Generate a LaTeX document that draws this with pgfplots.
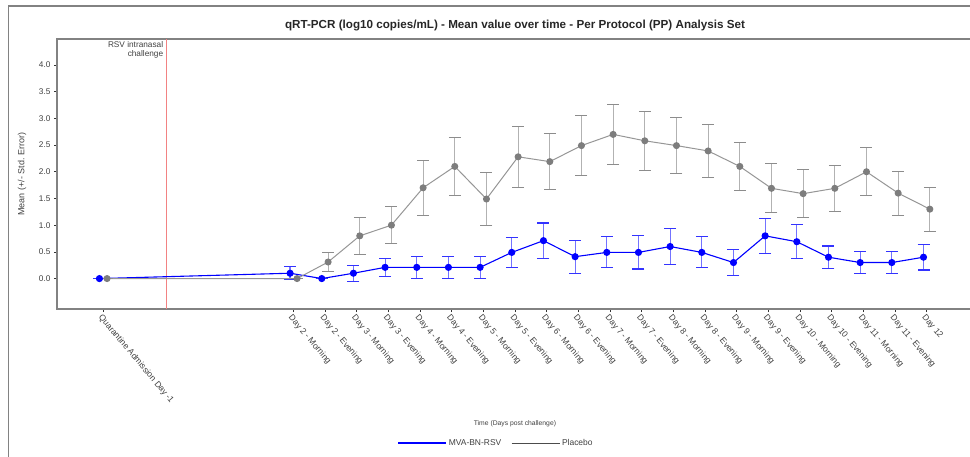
\documentclass[border=0pt]{standalone}
\usepackage{pgfplots}
\pgfplotsset{compat=1.18}
\usepackage{pgfplotstable}
\usepackage{fontspec}
\setmainfont{Liberation Sans}
\setsansfont{Liberation Sans}

% x positions: Quarantine = 0, Day 2 Morning = 6, ..., Day 12 = 26
\pgfplotstableread{
x y e
-0.12 0.00 0
5.9 0.10 0.12
6.9 0.00 0
7.9 0.10 0.15
8.9 0.21 0.17
9.9 0.21 0.21
10.9 0.21 0.21
11.9 0.21 0.21
12.9 0.49 0.28
13.9 0.71 0.33
14.9 0.41 0.31
15.9 0.49 0.29
16.9 0.49 0.31
17.9 0.60 0.33
18.9 0.49 0.29
19.9 0.30 0.24
20.9 0.80 0.33
21.9 0.69 0.32
22.9 0.40 0.21
23.9 0.30 0.21
24.9 0.30 0.21
25.9 0.40 0.24
}\mvatable

\pgfplotstableread{
x y e
0.12 0.00 0
6.12 0.00 0
7.1 0.31 0.18
8.1 0.80 0.34
9.1 1.00 0.35
10.1 1.70 0.51
11.1 2.10 0.55
12.1 1.49 0.49
13.1 2.28 0.57
14.1 2.19 0.53
15.1 2.49 0.56
16.1 2.70 0.56
17.1 2.58 0.55
18.1 2.49 0.52
19.1 2.39 0.50
20.1 2.10 0.45
21.1 1.69 0.46
22.1 1.59 0.45
23.1 1.69 0.43
24.1 2.00 0.45
25.1 1.60 0.41
26.1 1.30 0.41
}\placebotable

\definecolor{mvablue}{RGB}{0,0,255}
\definecolor{plgray}{RGB}{125,125,125}
\definecolor{plline}{RGB}{150,150,150}
\definecolor{refred}{RGB}{242,130,130}
\definecolor{framegray}{RGB}{130,130,130}

\begin{document}
\begin{tikzpicture}
% outer frame (cropped at the right and bottom)
\draw[framegray, line width=1.6bp] (8.5bp,-470bp) -- (8.5bp,-6bp) -- (1000bp,-6bp);
% chart title
\node[font=\bfseries\fontsize{11.7}{13}\selectfont, text=black!85, anchor=center]
  at (515bp,-26bp) {qRT-PCR (log10 copies/mL) - Mean value over time - Per Protocol (PP) Analysis Set};

\begin{axis}[
  at={(57bp,-309bp)}, anchor=south west,
  x=31.67bp, y=53.4bp,
  xmin=-1.46, xmax=28.54, ymin=-0.57, ymax=4.49,
  axis line style={framegray, line width=1.4bp},
  tick align=outside, xtick pos=bottom, ytick pos=left,
  major tick length=3bp,
  tick style={black!80, line width=0.7bp},
  /pgf/number format/assume math mode=true,
  ytick={0,0.5,1,1.5,2,2.5,3,3.5,4},
  yticklabel style={/pgf/number format/fixed, /pgf/number format/fixed zerofill,
    /pgf/number format/precision=1, font=\fontsize{8.3}{9}\selectfont, text=black!75},
  xtick={0,6,7,8,9,10,11,12,13,14,15,16,17,18,19,20,21,22,23,24,25,26},
  xticklabels={Quarantine Admission Day -1, Day 2 - Morning, Day 2 - Evening,
    Day 3 - Morning, Day 3 - Evening, Day 4 - Morning, Day 4 - Evening,
    Day 5 - Morning, Day 5 - Evening, Day 6 - Morning, Day 6 - Evening,
    Day 7 - Morning, Day 7 - Evening, Day 8 - Morning, Day 8 - Evening,
    Day 9 - Morning, Day 9 - Evening, Day 10 - Morning, Day 10 - Evening,
    Day 11 - Morning, Day 11 - Evening, Day 12},
  xticklabel style={rotate=-50, anchor=north west, inner sep=1pt,
    font=\fontsize{8.6}{9}\selectfont, text=black!75},
  ylabel={Mean (+/- Std. Error)},
  ylabel style={at={(axis description cs:-0.0368,0.5)}, anchor=center,
    font=\fontsize{9}{10}\selectfont, text=black!75},
  xlabel={Time (Days post challenge)},
  xlabel style={at={(axis description cs:0.482,-0.4256)}, anchor=center,
    font=\fontsize{6.8}{8}\selectfont, text=black!75},
  legend columns=2,
  legend style={at={(axis description cs:0.462,-0.496)}, anchor=center,
    draw=none, fill=none, font=\fontsize{8.5}{9}\selectfont, text=black!75,
    /tikz/every even column/.append style={column sep=8bp}},
  legend image code/.code={\draw[#1] (0bp,0bp) -- (48bp,0bp);},
]
% challenge reference line
\draw[refred, line width=1.2bp] (axis cs:2,-0.57) -- (axis cs:2,4.49);
\node[anchor=north east, align=right, inner sep=1pt, font=\fontsize{8.3}{9}\selectfont, text=black!75]
  at (axis cs:1.93,4.47) {RSV intranasal\\challenge};

\addlegendimage{mvablue, line width=1.5bp}
\addlegendentry{MVA-BN-RSV}
\addlegendimage{black!70, line width=0.7bp}
\addlegendentry{Placebo}

\addplot[mvablue, line width=1.1bp, mark=*, mark size=3bp,
  mark options={fill=mvablue, draw=mvablue},
  error bars/.cd, y dir=both, y explicit, error mark=-,
  error bar style={mvablue!55, line width=1.2bp},
  error mark options={rotate=90, mvablue!80, line width=1.1bp, mark size=6bp}]
  table[x=x, y=y, y error=e] {\mvatable};

\addplot[plline, line width=1bp, mark=*, mark size=3bp,
  mark options={fill=plgray, draw=plgray},
  error bars/.cd, y dir=both, y explicit, error mark=-,
  error bar style={black!30, line width=1.1bp},
  error mark options={rotate=90, black!45, line width=1bp, mark size=6bp}]
  table[x=x, y=y, y error=e] {\placebotable};
\end{axis}
\pgfresetboundingbox
\useasboundingbox (0bp,0bp) rectangle (970bp,-457bp);
\end{tikzpicture}
\end{document}
